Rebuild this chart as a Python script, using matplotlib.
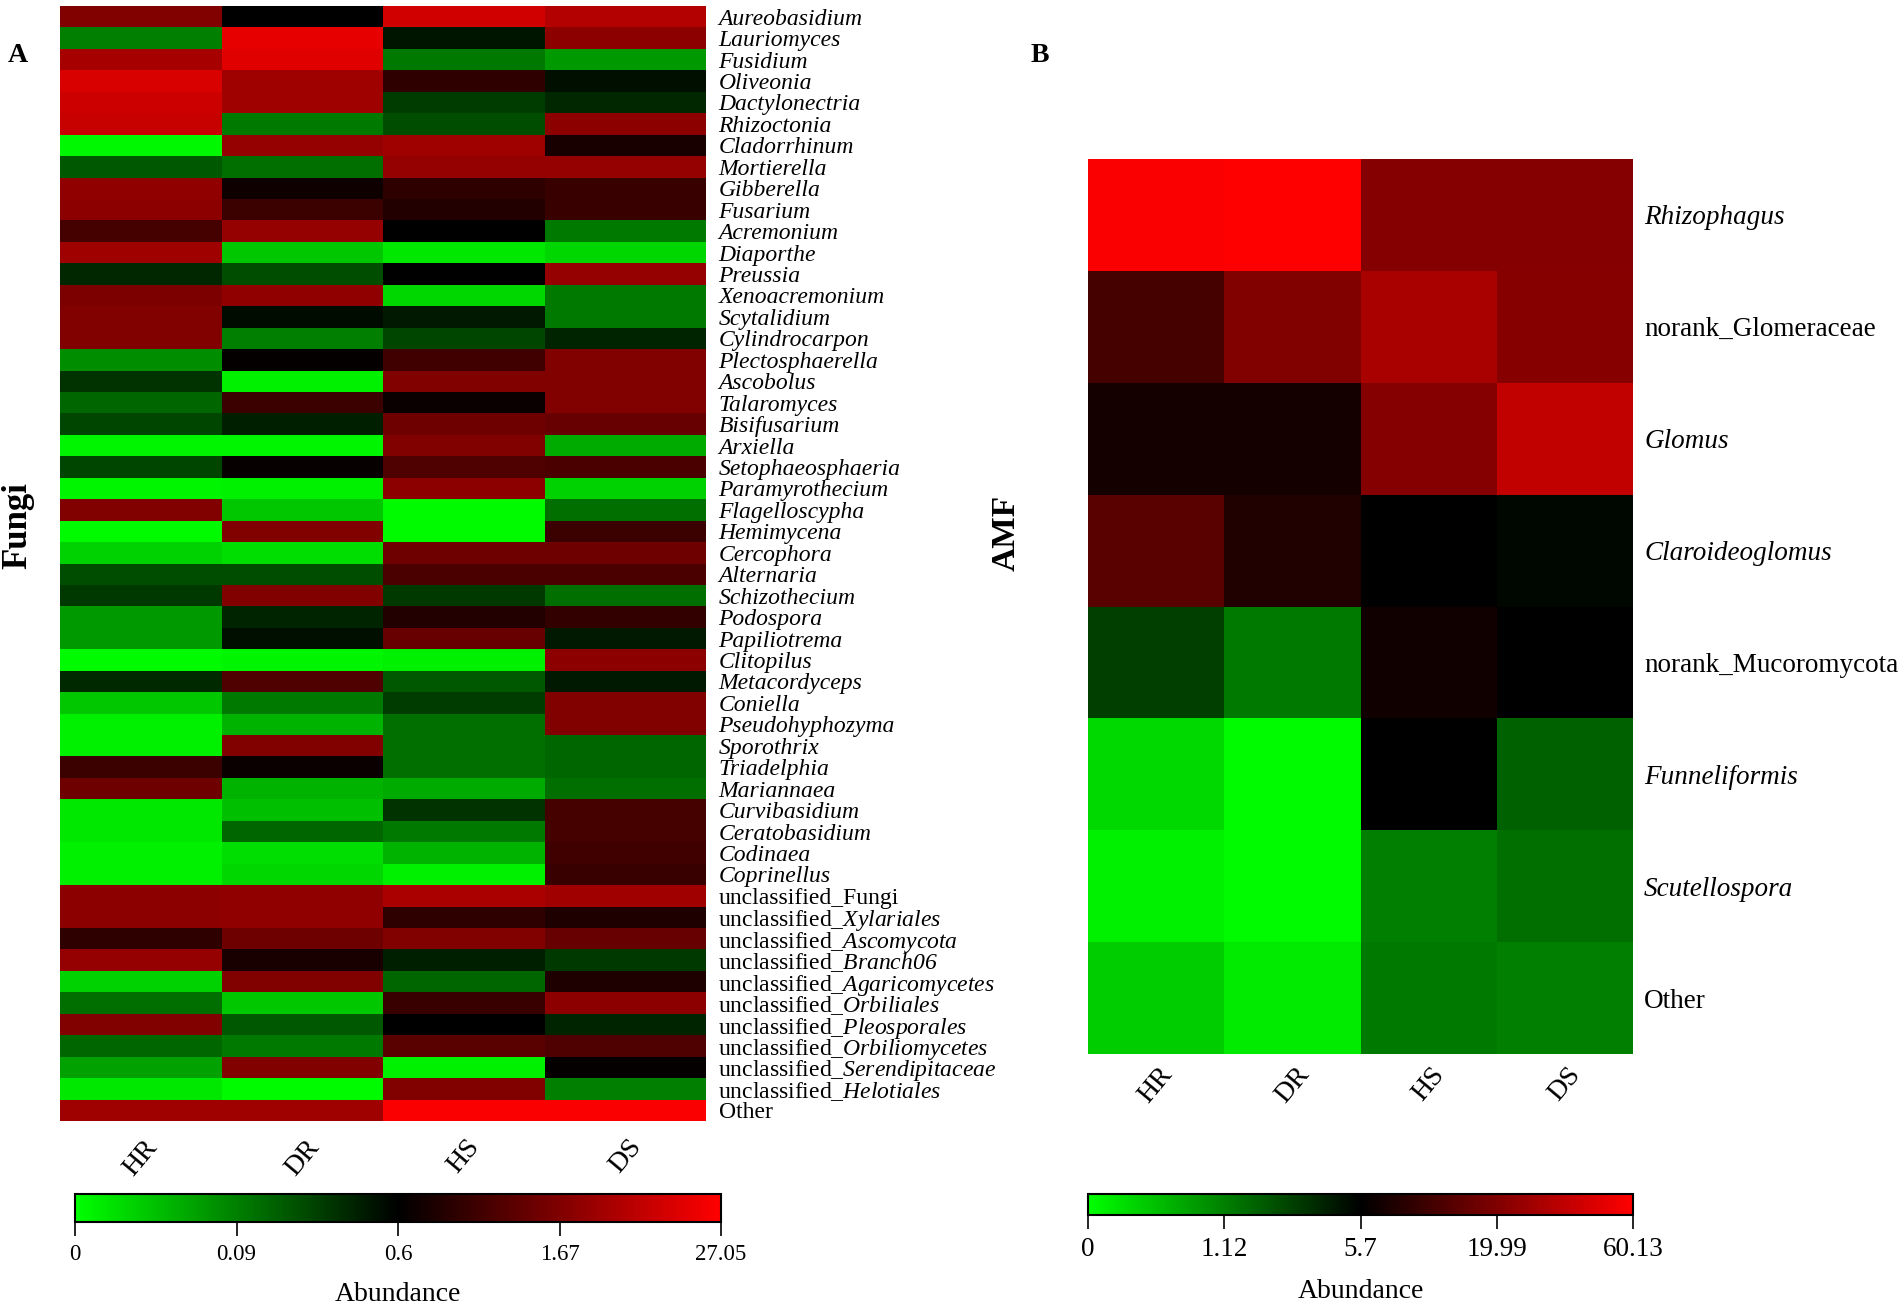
import numpy as np
import matplotlib.pyplot as plt
from matplotlib.colors import LinearSegmentedColormap

plt.rcParams['font.family'] = 'Liberation Serif'
plt.rcParams['mathtext.fontset'] = 'custom'
plt.rcParams['mathtext.rm'] = 'Liberation Serif'
plt.rcParams['mathtext.sf'] = 'Liberation Serif:italic'

groups = ['HR', 'DR', 'HS', 'DS']

fungi_taxa = ['Aureobasidium', 'Lauriomyces', 'Fusidium', 'Oliveonia', 'Dactylonectria',
              'Rhizoctonia', 'Cladorrhinum', 'Mortierella', 'Gibberella', 'Fusarium',
              'Acremonium', 'Diaporthe', 'Preussia', 'Xenoacremonium', 'Scytalidium',
              'Cylindrocarpon', 'Plectosphaerella', 'Ascobolus', 'Talaromyces', 'Bisifusarium',
              'Arxiella', 'Setophaeosphaeria', 'Paramyrothecium', 'Flagelloscypha', 'Hemimycena',
              'Cercophora', 'Alternaria', 'Schizothecium', 'Podospora', 'Papiliotrema',
              'Clitopilus', 'Metacordyceps', 'Coniella', 'Pseudohyphozyma', 'Sporothrix',
              'Triadelphia', 'Mariannaea', 'Curvibasidium', 'Ceratobasidium', 'Codinaea',
              'Coprinellus', 'unclassified_Fungi', 'unclassified_Xylariales',
              'unclassified_Ascomycota', 'unclassified_Branch06', 'unclassified_Agaricomycetes',
              'unclassified_Orbiliales', 'unclassified_Pleosporales', 'unclassified_Orbiliomycetes',
              'unclassified_Serendipitaceae', 'unclassified_Helotiales', 'Other']

# colour level: -1 bright green (low) .. 0 black .. 1 bright red (high)
fungi_HR = [0.50, -0.50, 0.65, 0.85, 0.80, 0.78, -0.97, -0.35, 0.57, 0.55,
            0.27, 0.62, -0.15, 0.49, 0.50, 0.50, -0.55, -0.20, -0.40, -0.27,
            -0.96, -0.27, -0.96, 0.50, -0.98, -0.82, -0.30, -0.22, -0.60, -0.60,
            -0.98, -0.16, -0.78, -0.94, -0.94, 0.23, 0.43, -0.90, -0.90, -0.94,
            -0.94, 0.55, 0.55, 0.18, 0.58, -0.82, -0.43, 0.50, -0.40, -0.63,
            -0.90, 0.62]
fungi_DR = [0.00, 0.90, 0.88, 0.62, 0.62, -0.47, 0.58, -0.43, 0.06, 0.23,
            0.58, -0.78, -0.30, 0.57, -0.04, -0.50, 0.02, -0.94, 0.23, -0.12,
            -0.96, 0.03, -0.94, -0.78, 0.50, -0.86, -0.30, 0.50, -0.14, -0.06,
            -0.96, 0.31, -0.47, -0.70, 0.50, 0.04, -0.70, -0.75, -0.40, -0.86,
            -0.84, 0.57, 0.57, 0.43, 0.10, 0.50, -0.78, -0.35, -0.47, 0.50,
            -0.98, 0.62]
fungi_HS = [0.82, -0.08, -0.47, 0.18, -0.23, -0.30, 0.62, 0.58, 0.18, 0.14,
            0.00, -0.90, 0.00, -0.84, -0.10, -0.27, 0.25, 0.50, 0.04, 0.43,
            0.50, 0.31, 0.55, -0.98, -0.98, 0.43, 0.29, -0.22, 0.14, 0.40,
            -0.94, -0.35, -0.23, -0.43, -0.43, -0.43, -0.67, -0.20, -0.47, -0.70,
            -0.94, 0.67, 0.18, 0.50, -0.12, -0.40, 0.22, 0.00, 0.35, -0.94,
            0.50, 0.98]
fungi_DS = [0.70, 0.55, -0.60, -0.06, -0.15, 0.55, 0.10, 0.58, 0.22, 0.22,
            -0.47, -0.84, 0.58, -0.47, -0.47, -0.14, 0.50, 0.50, 0.50, 0.40,
            -0.67, 0.29, -0.82, -0.43, 0.23, 0.43, 0.29, -0.43, 0.20, -0.10,
            0.55, -0.10, 0.50, 0.50, -0.40, -0.40, -0.43, 0.27, 0.27, 0.25,
            0.22, 0.63, 0.12, 0.40, -0.22, 0.12, 0.55, -0.14, 0.31, 0.02,
            -0.50, 0.98]
fungi_ticks = ['0', '0.09', '0.6', '1.67', '27.05']

amf_taxa = ['Rhizophagus', 'norank_Glomeraceae', 'Glomus', 'Claroideoglomus',
            'norank_Mucoromycota', 'Funneliformis', 'Scutellospora', 'Other']
amf_HR = [0.98, 0.27, 0.08, 0.35, -0.25, -0.85, -0.94, -0.80]
amf_DR = [1.00, 0.50, 0.08, 0.13, -0.47, -0.98, -0.98, -0.92]
amf_HS = [0.52, 0.66, 0.52, 0.00, 0.07, 0.00, -0.50, -0.47]
amf_DS = [0.52, 0.53, 0.75, -0.03, 0.00, -0.38, -0.43, -0.50]
amf_ticks = ['0', '1.12', '5.7', '19.99', '60.13']

cmap = LinearSegmentedColormap.from_list('gkr', ['#00ff00', '#000000', '#ff0000'])

W, H = 1901, 1305
fig = plt.figure(figsize=(W / 100, H / 100), dpi=100)


def box(x0, y0, x1, y1):
    return [x0 / W, 1 - y1 / H, (x1 - x0) / W, (y1 - y0) / H]


def label_text(name):
    # italic part after "unclassified_" (sf is mapped to the italic serif so digits stay italic)
    if name.startswith('unclassified_') and name != 'unclassified_Fungi':
        return 'unclassified_$\\mathsf{' + name.split('_', 1)[1] + '}$'
    return name


def heat(ax, cols, taxa, size, xpad, ypad):
    data = np.array(cols).T
    mesh = ax.pcolormesh(data, cmap=cmap, vmin=-1, vmax=1)
    ax.set_ylim(len(taxa), 0)
    ax.set_xlim(0, 4)
    ax.set_xticks(np.arange(4) + 0.5, groups, rotation=50, fontsize=20)
    ax.set_yticks(np.arange(len(taxa)) + 0.5, [label_text(t) for t in taxa], fontsize=size)
    ax.yaxis.tick_right()
    ax.tick_params(length=0)
    ax.tick_params(axis='y', pad=ypad)
    ax.tick_params(axis='x', pad=xpad)
    for lab, t in zip(ax.get_yticklabels(), taxa):
        if not (t.startswith('unclassified_') or t.startswith('norank_') or t == 'Other'):
            lab.set_fontstyle('italic')
    for s in ax.spines.values():
        s.set_visible(False)
    return mesh


def cbar(mesh, rect, ticks, size):
    cax = fig.add_axes(rect)
    cb = fig.colorbar(mesh, cax=cax, orientation='horizontal', ticks=[-1, -0.5, 0, 0.5, 1])
    cb.set_ticklabels(ticks)
    cb.outline.set_linewidth(1.5)
    cax.tick_params(length=10, width=1.2, labelsize=size, pad=6)
    cb.set_label('Abundance', fontsize=20, labelpad=12)


ax1 = fig.add_axes(box(60, 6, 706, 1121))
m1 = heat(ax1, [fungi_HR, fungi_DR, fungi_HS, fungi_DS], fungi_taxa, 17, 10, 9)
ax2 = fig.add_axes(box(1088, 159, 1633, 1054))
m2 = heat(ax2, [amf_HR, amf_DR, amf_HS, amf_DS], amf_taxa, 19.5, 6, 8)

cbar(m1, box(75, 1194, 721, 1222), fungi_ticks, 16.5)
cbar(m2, box(1088, 1194, 1633, 1215), amf_ticks, 19.5)

fig.text(18 / W, 1 - 55 / H, 'A', fontsize=20, fontweight='bold', ha='center', va='center')
fig.text(1040 / W, 1 - 55 / H, 'B', fontsize=20, fontweight='bold', ha='center', va='center')
fig.text(18 / W, 1 - 526 / H, 'Fungi', fontsize=25, fontweight='bold', rotation=90,
         ha='center', va='center')
fig.text(1006 / W, 1 - 533 / H, 'AMF', fontsize=24, fontweight='bold', rotation=90,
         ha='center', va='center')

fig.savefig('out.png', dpi=100)
